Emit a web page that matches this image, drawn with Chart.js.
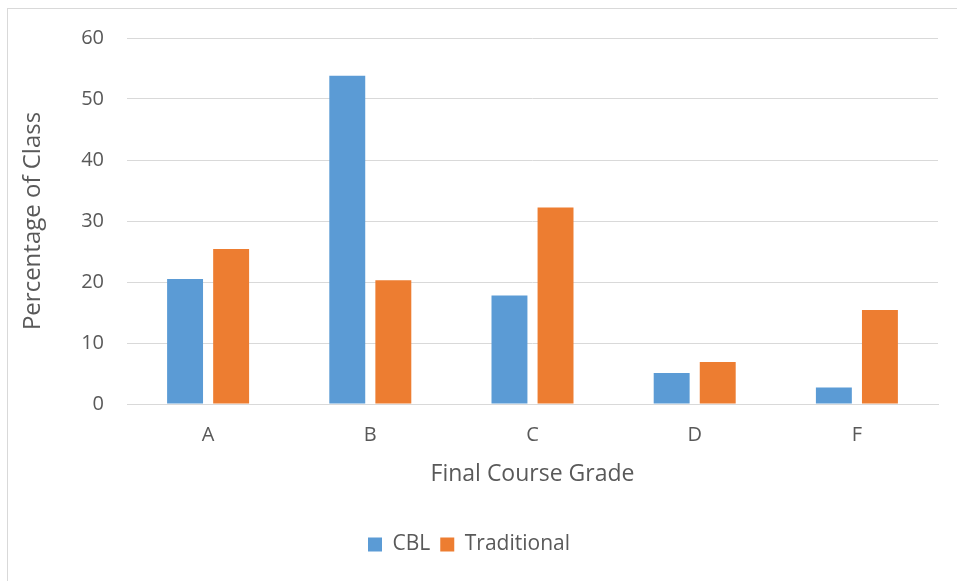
<!DOCTYPE html>
<html>
<head>
<meta charset="utf-8">
<script src="https://cdn.jsdelivr.net/npm/chart.js@4"></script>
<style>
  html, body { margin: 0; padding: 0; background: #fff; }
  #wrap { width: 957px; height: 581px; }
</style>
</head>
<body>
<div id="wrap"><canvas id="bar" width="957" height="581"></canvas></div>
<script>
const grades = ['A', 'B', 'C', 'D', 'F'];
const cblValues = [20.5, 53.8, 17.8, 5.1, 2.7];
const traditionalValues = [25.4, 20.3, 32.2, 6.9, 15.4];
const yTicks = [0, 10, 20, 30, 40, 50, 60];

const textColor = '#595959';
const gridColor = '#d9d9d9';
const fontFamily = "'Open Sans', 'Noto Sans', sans-serif";

// light frame around the chart, like the office export
const frame = {
  id: 'frame',
  beforeDraw(chart) {
    const ctx = chart.ctx;
    ctx.save();
    ctx.strokeStyle = gridColor;
    ctx.lineWidth = 1;
    ctx.strokeRect(7.5, 8.5, 1000, 1000);
    ctx.restore();
  }
};

new Chart(document.getElementById('bar').getContext('2d'), {
  type: 'bar',
  data: {
    labels: grades,
    datasets: [{
      label: 'CBL',
      data: cblValues,
      backgroundColor: '#5b9bd5',
      categoryPercentage: 0.568,
      barPercentage: 0.78
    }, {
      label: 'Traditional',
      data: traditionalValues,
      backgroundColor: '#ed7d31',
      categoryPercentage: 0.568,
      barPercentage: 0.78
    }]
  },
  options: {
    responsive: false,
    animation: false,
    layout: {
      padding: { top: 38, right: 19, bottom: 16, left: 0 }
    },
    scales: {
      x: {
        grid: { display: false, drawTicks: false },
        border: { display: true, color: gridColor, width: 1 },
        ticks: { color: textColor, padding: 19, font: { family: fontFamily, size: 20 } },
        title: {
          display: true,
          text: 'Final Course Grade',
          color: textColor,
          font: { family: fontFamily, size: 23 },
          padding: { top: 0, bottom: 36 }
        },
        afterFit: (scale) => { scale.height = 120; }
      },
      y: {
        min: 0,
        max: 60,
        afterBuildTicks: (scale) => { scale.ticks = yTicks.map(v => ({ value: v })); },
        grid: { color: gridColor, lineWidth: 1, drawTicks: false },
        border: { display: false },
        ticks: { color: textColor, padding: 23, font: { family: fontFamily, size: 20 } },
        title: {
          display: true,
          text: 'Percentage of Class',
          color: textColor,
          font: { family: fontFamily, size: 24 },
          padding: { top: 19, bottom: 0 }
        },
        afterFit: (scale) => { scale.width = 127; }
      }
    },
    plugins: {
      legend: {
        position: 'bottom',
        labels: {
          color: textColor,
          boxWidth: 14,
          boxHeight: 14,
          padding: 10,
          font: { family: fontFamily, size: 21 }
        }
      },
      tooltip: { enabled: false }
    }
  },
  plugins: [frame]
});
</script>
</body>
</html>
